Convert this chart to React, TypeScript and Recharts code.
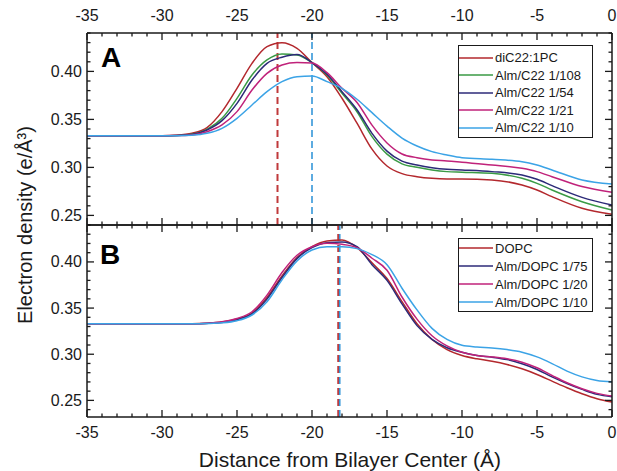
import { LineChart, Line, XAxis, YAxis, ReferenceLine, Legend } from 'recharts'

// panel A: diC22:1PC with alamethicin
const xA = [-35, -30, -29, -28, -27, -26, -25, -24, -23, -22, -21, -20, -19, -18, -17, -16, -15, -14, -13, -12, -11, -10, -8, -6, -5, -4, -2, 0]
const diC22 = [0.333, 0.333, 0.3335, 0.3355, 0.3415, 0.3581, 0.3824, 0.4084, 0.4258, 0.4299, 0.424, 0.4092, 0.3945, 0.372, 0.346, 0.319, 0.3015, 0.2935, 0.2903, 0.2886, 0.288, 0.288, 0.2869, 0.2817, 0.2765, 0.2695, 0.2574, 0.2511]
const almC22_108 = [0.333, 0.333, 0.3332, 0.3345, 0.3397, 0.3511, 0.3719, 0.3962, 0.4119, 0.4181, 0.4171, 0.4092, 0.3963, 0.3772, 0.358, 0.332, 0.3138, 0.3037, 0.3001, 0.2973, 0.2956, 0.295, 0.2938, 0.2886, 0.2834, 0.2765, 0.2643, 0.2556]
const almC22_54 = [0.333, 0.333, 0.3332, 0.3342, 0.339, 0.3487, 0.3667, 0.391, 0.4084, 0.4148, 0.4175, 0.4092, 0.397, 0.3789, 0.36, 0.3355, 0.317, 0.3065, 0.3025, 0.2997, 0.298, 0.2973, 0.2956, 0.2921, 0.2876, 0.281, 0.2688, 0.2608]
const almC22_21 = [0.333, 0.333, 0.3331, 0.3338, 0.3372, 0.3442, 0.3581, 0.3806, 0.398, 0.4067, 0.4092, 0.4088, 0.3987, 0.3824, 0.3676, 0.344, 0.3255, 0.314, 0.3101, 0.3077, 0.3067, 0.3053, 0.3025, 0.299, 0.2956, 0.2903, 0.28, 0.274]
const almC22_10 = [0.333, 0.333, 0.333, 0.3335, 0.3355, 0.3407, 0.3511, 0.365, 0.3789, 0.3893, 0.3945, 0.3952, 0.3893, 0.3824, 0.371, 0.357, 0.343, 0.3306, 0.3223, 0.3164, 0.3129, 0.3101, 0.3084, 0.306, 0.3025, 0.2973, 0.2869, 0.2827]

// panel B: DOPC with alamethicin
const xB = [-35, -30, -28, -27, -26, -25, -24, -23, -22, -21, -20, -19, -18, -17, -16, -15, -14, -13, -12, -11, -10, -9, -8, -7, -6, -5, -4, -3, -2, -1, 0]
const dopc = [0.333, 0.333, 0.333, 0.3335, 0.3348, 0.3381, 0.3446, 0.3615, 0.3849, 0.4047, 0.4165, 0.4227, 0.4237, 0.4155, 0.399, 0.382, 0.357, 0.333, 0.316, 0.305, 0.2986, 0.295, 0.2924, 0.2889, 0.2842, 0.2781, 0.2709, 0.2637, 0.2572, 0.2518, 0.2482]
const almDopc_75 = [0.333, 0.333, 0.333, 0.3334, 0.3345, 0.3374, 0.3436, 0.3597, 0.3831, 0.4036, 0.4155, 0.4209, 0.4216, 0.4165, 0.397, 0.38, 0.3545, 0.331, 0.316, 0.307, 0.3022, 0.2986, 0.2968, 0.2942, 0.2896, 0.2835, 0.2755, 0.2683, 0.2619, 0.2565, 0.254]
const almDopc_20 = [0.333, 0.333, 0.333, 0.3336, 0.3352, 0.3388, 0.346, 0.364, 0.3885, 0.4072, 0.4165, 0.4201, 0.4191, 0.4155, 0.404, 0.391, 0.362, 0.338, 0.32, 0.309, 0.3022, 0.2986, 0.2971, 0.295, 0.2914, 0.2853, 0.277, 0.2691, 0.2626, 0.2576, 0.2547]
const almDopc_10 = [0.333, 0.333, 0.333, 0.3333, 0.334, 0.3363, 0.3425, 0.3568, 0.3806, 0.4011, 0.4129, 0.4165, 0.4165, 0.4144, 0.408, 0.397, 0.3715, 0.348, 0.328, 0.316, 0.3097, 0.3079, 0.3068, 0.305, 0.3022, 0.2971, 0.2899, 0.2817, 0.2755, 0.2716, 0.2701]

const namesA = ['diC22:1PC', 'Alm/C22 1/108', 'Alm/C22 1/54', 'Alm/C22 1/21', 'Alm/C22 1/10']
const namesB = ['DOPC', 'Alm/DOPC 1/75', 'Alm/DOPC 1/20', 'Alm/DOPC 1/10']
const peakA = [-22.3, -20.0]
const peakB = [-18.25, -18.15]

const xTicks = [-35, -34, -33, -32, -31, -30, -29, -28, -27, -26, -25, -24, -23, -22, -21, -20, -19, -18, -17, -16, -15, -14, -13, -12, -11, -10, -9, -8, -7, -6, -5, -4, -3, -2, -1, 0]
const yTicks = [0.24, 0.25, 0.26, 0.27, 0.28, 0.29, 0.3, 0.31, 0.32, 0.33, 0.34, 0.35, 0.36, 0.37, 0.38, 0.39, 0.4, 0.41, 0.42, 0.43, 0.44]

const RED = '#b3282d'
const GREEN = '#3a9a45'
const NAVY = '#2c2a78'
const MAGENTA = '#c0227a'
const SKY = '#3ba3e6'
const colorsA = [RED, GREEN, NAVY, MAGENTA, SKY]
const colorsB = [RED, NAVY, MAGENTA, SKY]
const INK = '#1a1a1a'
const FONT = '"Liberation Sans", Arial, Helvetica, sans-serif'

const rowsA = xA.map((x, i) => ({ x, s0: diC22[i], s1: almC22_108[i], s2: almC22_54[i], s3: almC22_21[i], s4: almC22_10[i] }))
const rowsB = xB.map((x, i) => ({ x, s0: dopc[i], s1: almDopc_75[i], s2: almDopc_20[i], s3: almDopc_10[i] }))

type Side = 'left' | 'right' | 'top' | 'bottom'

// ticks point inward; only majors get labels
function tick(side: Side, labelled: boolean) {
  return (p: any) => {
    const { x, y, payload } = p
    const v = payload.value as number
    const vertical = side === 'top' || side === 'bottom'
    const major = vertical ? v % 5 === 0 : Math.round(v * 100) % 5 === 0
    const len = major ? 7 : 3.5
    let line
    let label = null
    const text = vertical ? String(v) : v.toFixed(2)
    if (side === 'bottom') {
      line = <line x1={x} x2={x} y1={y} y2={y - len} stroke={INK} strokeWidth={1.3} />
      if (labelled && major) label = <text x={x} y={y + 15} textAnchor="middle" dominantBaseline="central" fontSize={16} fill={INK} fontFamily={FONT}>{text}</text>
    } else if (side === 'top') {
      line = <line x1={x} x2={x} y1={y} y2={y + len} stroke={INK} strokeWidth={1.3} />
      if (labelled && major) label = <text x={x} y={y - 18} textAnchor="middle" dominantBaseline="central" fontSize={16} fill={INK} fontFamily={FONT}>{text}</text>
    } else if (side === 'left') {
      line = <line x1={x} x2={x + len} y1={y} y2={y} stroke={INK} strokeWidth={1.3} />
      if (labelled && major) label = <text x={x - 5} y={y} textAnchor="end" dominantBaseline="central" fontSize={16} fill={INK} fontFamily={FONT}>{text}</text>
    } else {
      line = <line x1={x} x2={x - len} y1={y} y2={y} stroke={INK} strokeWidth={1.3} />
    }
    return (
      <g>
        {line}
        {label}
      </g>
    )
  }
}

function LegendBox({ names, colors, rowH, padTop }: { names: string[]; colors: string[]; rowH: number; padTop: number }) {
  return (
    <div style={{ border: `1.5px solid ${INK}`, background: '#fff', paddingTop: padTop, boxSizing: 'border-box', width: 135, fontFamily: FONT }}>
      {names.map((n, i) => (
        <div key={n} style={{ display: 'flex', alignItems: 'center', height: rowH }}>
          <svg width={34} height={6} style={{ display: 'block' }}>
            <line x1={0} x2={34} y1={3} y2={3} stroke={colors[i]} strokeWidth={1.6} />
          </svg>
          <span style={{ fontSize: 13, marginLeft: 2, color: INK, whiteSpace: 'nowrap', lineHeight: 1 }}>{n}</span>
        </div>
      ))}
    </div>
  )
}

const axisLine = { stroke: INK, strokeWidth: 1.5 }

function Panel({ rows, names, colors, domain, topLabels, bottomLabels, height, margin, peaks, legendPos, rowH, padTop }: any) {
  return (
    <LineChart width={617} height={height} data={rows} margin={margin}>
      <XAxis xAxisId="b" dataKey="x" type="number" domain={[-35, 0]} ticks={xTicks} interval={0} orientation="bottom" height={1}
        tickLine={false} tickSize={0} tickMargin={0} axisLine={axisLine} tick={tick('bottom', bottomLabels)} allowDataOverflow />
      <XAxis xAxisId="t" dataKey="x" type="number" domain={[-35, 0]} ticks={xTicks} interval={0} orientation="top" height={1}
        tickLine={false} tickSize={0} tickMargin={0} axisLine={axisLine} tick={tick('top', topLabels)} allowDataOverflow />
      <YAxis yAxisId="l" type="number" domain={domain} ticks={yTicks} interval={0} orientation="left" width={1}
        tickLine={false} tickSize={0} tickMargin={0} axisLine={axisLine} tick={tick('left', true)} allowDataOverflow />
      <YAxis yAxisId="r" type="number" domain={domain} ticks={yTicks} interval={0} orientation="right" width={1}
        tickLine={false} tickSize={0} tickMargin={0} axisLine={axisLine} tick={tick('right', false)} allowDataOverflow />
      <ReferenceLine xAxisId="b" yAxisId="l" x={peaks[0]} stroke="#c0393b" strokeWidth={2} strokeDasharray="7 4" />
      <ReferenceLine xAxisId="b" yAxisId="l" x={peaks[1]} stroke="#3597d9" strokeWidth={1.6} strokeDasharray="7 4" />
      {names.map((n: string, i: number) => (
        <Line key={n} xAxisId="b" yAxisId="l" type="monotone" dataKey={`s${i}`} name={n} stroke={colors[i]}
          strokeWidth={1.5} dot={false} isAnimationActive={false} />
      ))}
      <Legend layout="vertical" align="center" verticalAlign="middle"
        wrapperStyle={{ left: legendPos[0], top: legendPos[1], width: 135, right: 'auto', bottom: 'auto' }}
        content={() => <LegendBox names={names} colors={colors} rowH={rowH} padTop={padTop} />} />
    </LineChart>
  )
}

export default function App() {
  return (
    <div style={{ position: 'absolute', left: 0, top: 0, width: 617, height: 471, background: '#fff', fontFamily: FONT }}>
      <div style={{ position: 'absolute', left: 0, top: 0 }}>
        <Panel rows={rowsA} names={namesA} colors={colorsA} domain={[0.24, 0.44]} topLabels bottomLabels={false}
          height={230} margin={{ top: 32, right: 4, bottom: 4, left: 86 }} peaks={peakA} legendPos={[458, 45]} rowH={17.5} padTop={3} />
      </div>
      <div style={{ position: 'absolute', left: 0, top: 220 }}>
        <Panel rows={rowsB} names={namesB} colors={colorsB} domain={[0.232, 0.44]} topLabels={false} bottomLabels
          height={251} margin={{ top: 4, right: 4, bottom: 53, left: 86 }} peaks={peakB} legendPos={[458, 18]} rowH={18} padTop={0} />
      </div>
      <svg width={617} height={471} style={{ position: 'absolute', left: 0, top: 0, pointerEvents: 'none' }}>
        <text x={101} y={66.5} fontSize={28} fontWeight="bold" fill="#000" fontFamily={FONT}>A</text>
        <text x={100} y={263.5} fontSize={28} fontWeight="bold" fill="#000" fontFamily={FONT}>B</text>
        <text x={350} y={467} fontSize={21} textAnchor="middle" fill={INK} fontFamily={FONT}>Distance from Bilayer Center (Å)</text>
        <text transform="translate(32,225) rotate(-90)" fontSize={20} textAnchor="middle" fill={INK} fontFamily={FONT}>Electron density (e/Å³)</text>
      </svg>
    </div>
  )
}
